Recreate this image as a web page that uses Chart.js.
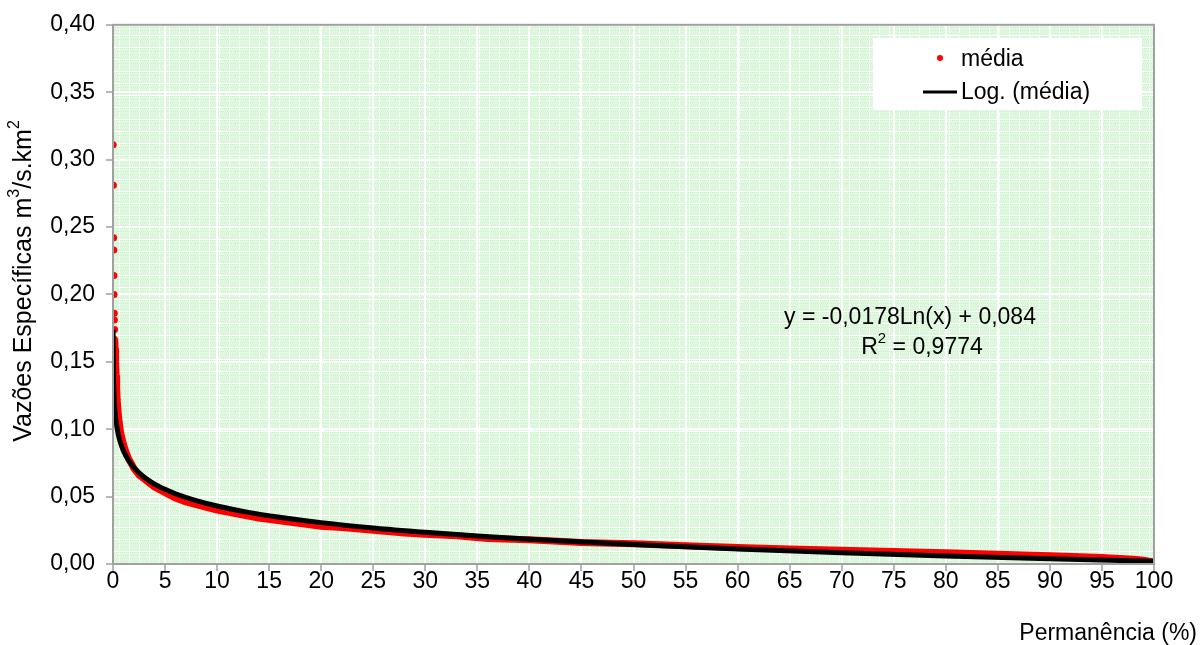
<!DOCTYPE html>
<html>
<head>
<meta charset="utf-8">
<script src="https://cdn.jsdelivr.net/npm/chart.js@4/dist/chart.umd.min.js"></script>
<style>
  html, body { margin: 0; padding: 0; background: #fff; }
  #wrap { width: 1201px; height: 645px; position: relative; }
</style>
</head>
<body>
<div id="wrap"><canvas id="c"></canvas></div>
<script>
/* Curva de permanência — vazões específicas (média) + tendência logarítmica */
const FONT = '"Liberation Sans", Arial, sans-serif';

// pontos isolados do topo (x ~ 0)
const headX = [0.02, 0.04, 0.06, 0.07, 0.09, 0.10, 0.12, 0.13, 0.15];
const headY = [0.311, 0.281, 0.242, 0.233, 0.214, 0.200, 0.186, 0.181, 0.174];

// corpo da curva (média)
const mediaX = [0.17, 0.2, 0.25, 0.3, 0.35, 0.4, 0.5, 0.6, 0.7, 0.8, 1.0, 1.2, 1.5, 1.8, 2.0, 2.5,
  3.0, 3.5, 4.0, 5, 6, 7, 8, 9, 10, 12, 14, 16, 18, 20, 22, 25, 28, 30, 33, 36, 40, 45, 50,
  55, 60, 65, 70, 75, 80, 85, 90, 95, 98, 99, 100];
const mediaY = [0.167, 0.160, 0.150, 0.140, 0.130, 0.122, 0.112, 0.105, 0.099, 0.095, 0.089, 0.084,
  0.078, 0.074, 0.071, 0.066, 0.063, 0.060, 0.057, 0.053, 0.049, 0.046, 0.044, 0.042, 0.040,
  0.037, 0.034, 0.032, 0.030, 0.028, 0.027, 0.025, 0.023, 0.022, 0.021, 0.019, 0.018, 0.016,
  0.015, 0.0135, 0.0122, 0.0112, 0.0102, 0.0093, 0.0083, 0.0073, 0.0062, 0.0048, 0.0035,
  0.0028, 0.0015];

// Log. (média): y = -0,0178Ln(x) + 0,084
const trendX = [0.0064, 0.01, 0.02, 0.05, 0.1, 0.2, 0.3, 0.5, 0.7, 1, 1.5, 2, 3, 4, 5, 6, 8, 10,
  13, 16, 20, 25, 30, 35, 40, 50, 60, 70, 80, 90, 100];
const trendY = [0.1739, 0.1660, 0.1536, 0.1373, 0.1250, 0.1126, 0.1054, 0.0963, 0.0904, 0.0840,
  0.0768, 0.0717, 0.0644, 0.0593, 0.0554, 0.0521, 0.0470, 0.0430, 0.0383, 0.0347, 0.0307,
  0.0267, 0.0235, 0.0207, 0.0183, 0.0144, 0.0111, 0.0084, 0.0060, 0.0039, 0.0020];

const legendLabels = ['média', 'Log. (média)'];
const eqLine = 'y = -0,0178Ln(x) + 0,084';
const r2Parts = ['R', '2', ' = 0,9774'];
const xTitle = 'Permanência (%)';
const yTitleParts = ['Vazões Específicas m', '3', '/s.km', '2'];

const pts = (xs, ys) => xs.map((x, i) => ({ x, y: ys[i] }));

// fundo verde pontilhado (aproximado: cor média + frestas brancas)
function greenPattern(ctx) {
  const t = document.createElement('canvas');
  t.width = 10; t.height = 12;
  const g = t.getContext('2d');
  g.fillStyle = '#fff'; g.fillRect(0, 0, 10, 12);
  g.fillStyle = '#dff8df'; g.fillRect(0, 0, 9, 11);
  g.fillStyle = '#ccf3cc';
  for (let i = 0; i < 9; i += 2)
    for (let j = 0; j < 11; j += 3) g.fillRect(i + (j % 2), j, 1, 1);
  return ctx.createPattern(t, 'repeat');
}

// texto com partes sobrescritas (índices ímpares)
function supText(ctx, parts, x, y, size, align) {
  const big = size + 'px ' + FONT, small = Math.round(size * 0.65) + 'px ' + FONT;
  const widths = parts.map((p, i) => { ctx.font = i % 2 ? small : big; return ctx.measureText(p).width; });
  const total = widths.reduce((a, b) => a + b, 0);
  let cx = align === 'center' ? x - total / 2 : align === 'right' ? x - total : x;
  ctx.textAlign = 'left';
  parts.forEach((p, i) => {
    ctx.font = i % 2 ? small : big;
    ctx.fillText(p, cx, i % 2 ? y - size * 0.38 : y);
    cx += widths[i];
  });
}

const decor = {
  id: 'decor',
  beforeDraw(chart) {
    const { ctx, chartArea: a } = chart;
    ctx.save();
    ctx.fillStyle = greenPattern(ctx);
    ctx.fillRect(a.left, a.top, a.right - a.left, a.bottom - a.top);
    ctx.restore();
  },
  afterDraw(chart) {
    const { ctx, chartArea: a } = chart;
    ctx.save();
    // borda da área
    ctx.strokeStyle = '#a0a0a0'; ctx.lineWidth = 2;
    ctx.strokeRect(a.left, a.top, a.right - a.left, a.bottom - a.top);

    // legenda
    ctx.fillStyle = '#fff';
    ctx.fillRect(873, 38, 269, 72);
    ctx.font = '23px ' + FONT;
    ctx.fillStyle = '#000';
    ctx.textBaseline = 'middle';
    ctx.textAlign = 'left';
    ctx.fillText(legendLabels[0], 961, 60);
    ctx.fillText(legendLabels[1], 961, 93);
    ctx.fillStyle = '#ff0000';
    ctx.beginPath(); ctx.arc(940, 58, 3, 0, Math.PI * 2); ctx.fill();
    ctx.strokeStyle = '#000'; ctx.lineWidth = 3;
    ctx.beginPath(); ctx.moveTo(923, 92); ctx.lineTo(957, 92); ctx.stroke();

    // equação
    ctx.fillStyle = '#000';
    ctx.textAlign = 'center';
    ctx.fillText(eqLine, 910, 318);
    supText(ctx, r2Parts, 922, 348, 23, 'center');

    // títulos dos eixos
    ctx.font = '23px ' + FONT;
    ctx.textAlign = 'right';
    ctx.fillText(xTitle, 1197, 634);
    ctx.translate(24, 281);
    ctx.rotate(-Math.PI / 2);
    supText(ctx, yTitleParts, 0, 0, 25, 'center');
    ctx.restore();
  }
};

new Chart(document.getElementById('c'), {
  type: 'scatter',
  data: {
    datasets: [
      { label: legendLabels[1], data: pts(trendX, trendY), showLine: true, borderColor: '#000',
        borderWidth: 5, pointRadius: 0, cubicInterpolationMode: 'monotone', order: 0 },
      { label: legendLabels[0], data: pts(mediaX, mediaY), showLine: true, borderColor: '#ff0000',
        backgroundColor: '#ff0000', borderWidth: 7, pointRadius: 3, pointBorderWidth: 0, order: 1 },
      { label: legendLabels[0], data: pts(headX, headY), backgroundColor: '#ff0000',
        pointRadius: 3.5, pointBorderWidth: 0, order: 2 }
    ]
  },
  options: {
    responsive: true, maintainAspectRatio: false, animation: false,
    layout: { padding: { left: 0, right: 47, top: 23, bottom: 0 } },
    plugins: { legend: { display: false }, tooltip: { enabled: false } },
    scales: {
      x: {
        type: 'linear', min: 0, max: 100,
        afterFit: s => { s.height = 81; },
        ticks: { stepSize: 5, color: '#000', padding: -3, font: { family: FONT, size: 23 } },
        grid: { color: '#fff', lineWidth: 2, tickColor: '#a0a0a0', tickLength: 7, tickWidth: 1.5 },
        border: { display: false }
      },
      y: {
        min: 0, max: 0.4,
        afterFit: s => { s.width = 113; },
        ticks: { stepSize: 0.05, color: '#000', padding: 11, font: { family: FONT, size: 23 },
                 callback: v => v.toFixed(2).replace('.', ',') },
        grid: { color: '#fff', lineWidth: 2, tickColor: '#a0a0a0', tickLength: 7, tickWidth: 1.5 },
        border: { display: false }
      }
    }
  },
  plugins: [decor]
});
</script>
</body>
</html>
